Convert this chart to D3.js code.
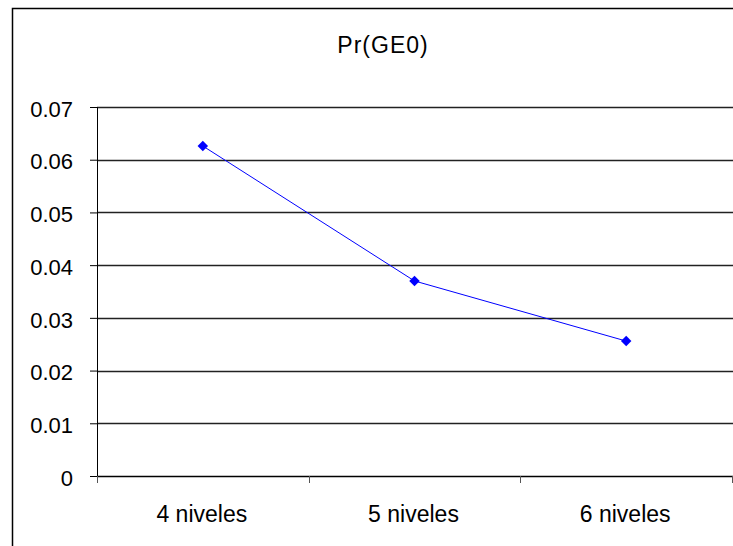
<!DOCTYPE html>
<html>
<head>
<meta charset="utf-8" />
<title>Pr(GE0)</title>
<script src="https://d3js.org/d3.v7.min.js"></script>
<style>
  body { margin: 0; background: #fff; }
  svg { display: block; font-family: "Liberation Sans", Arial, sans-serif; }
</style>
</head>
<body>
<svg id="chart" width="733" height="546"></svg>
<script>
// data
var categories = ["4 niveles", "5 niveles", "6 niveles"];
var values = [0.0626, 0.0370, 0.0256];
var yTicks = [0, 0.01, 0.02, 0.03, 0.04, 0.05, 0.06, 0.07];
var chartTitle = "Pr(GE0)";

var svg = d3.select("#chart"),
    margin = { top: 107, left: 97, right: 1, bottom: 70 },
    width = +svg.attr("width") - margin.left - margin.right,
    height = +svg.attr("height") - margin.top - margin.bottom;

// outer frame
svg.append("rect")
    .attr("x", 12.5).attr("y", 8.5)
    .attr("width", 800).attr("height", 600)
    .attr("fill", "none").attr("stroke", "#000").attr("stroke-width", 1.5);

var x = d3.scaleBand().domain(categories).range([0, width]).padding(0);
var y = d3.scaleLinear().domain([0, 0.07]).range([height, 0]);

var g = svg.append("g")
    .attr("transform", "translate(" + margin.left + "," + margin.top + ")");

// gridlines
g.selectAll(".grid").data(yTicks.filter(function (d) { return d > 0; }))
  .enter().append("line")
    .attr("x1", 0).attr("x2", width + 2)
    .attr("y1", function (d) { return Math.round(y(d)) + 0.5; })
    .attr("y2", function (d) { return Math.round(y(d)) + 0.5; })
    .attr("stroke", "#222").attr("stroke-width", 1.3);

// y axis
var yAxis = d3.axisLeft(y).tickValues(yTicks).tickSize(7).tickPadding(17)
    .tickFormat(function (d) { return d === 0 ? "0" : d3.format(".2f")(d); });
var ya = g.append("g").call(yAxis);
ya.select(".domain").remove();
ya.append("line").attr("x1", 0.5).attr("x2", 0.5).attr("y1", 0).attr("y2", height + 7)
    .attr("stroke", "#000");
ya.selectAll(".tick line").attr("stroke", "#000");
ya.selectAll("text").attr("font-size", 22).attr("fill", "#000").attr("dy", "0.42em");

// x axis
var xa = g.append("g").attr("transform", "translate(0," + height + ")");
xa.append("line").attr("x1", 0).attr("x2", width + 2).attr("y1", 0.5).attr("y2", 0.5)
    .attr("stroke", "#000").attr("stroke-width", 1.3);
var bounds = categories.map(function (c) { return x(c); }).concat([width]);
xa.selectAll(".xt").data(bounds).enter().append("line")
    .attr("x1", function (d) { return Math.round(d) + 0.5; })
    .attr("x2", function (d) { return Math.round(d) + 0.5; })
    .attr("y1", 0).attr("y2", 7).attr("stroke", "#555");
xa.selectAll(".xl").data(categories).enter().append("text")
    .attr("x", function (d) { return x(d) + x.bandwidth() / 2 - 1; })
    .attr("y", 46)
    .attr("text-anchor", "middle")
    .attr("font-size", 23)
    .text(function (d) { return d; });

// series line
var line = d3.line()
    .x(function (d, i) { return x(categories[i]) + x.bandwidth() / 2; })
    .y(function (d) { return y(d); });

g.append("path").datum(values)
    .attr("fill", "none").attr("stroke", "#0000ff").attr("stroke-width", 1)
    .attr("d", line);

g.selectAll(".pt").data(values).enter().append("path")
    .attr("transform", function (d, i) {
        return "translate(" + (x(categories[i]) + x.bandwidth() / 2) + "," + y(d) + ")";
    })
    .attr("d", d3.symbol().type(d3.symbolDiamond2).size(70))
    .attr("fill", "#0000ff");

// title
svg.append("text")
    .attr("x", 383).attr("y", 53)
    .attr("text-anchor", "middle")
    .attr("font-size", 23)
    .attr("letter-spacing", 1)
    .text(chartTitle);
</script>
</body>
</html>
